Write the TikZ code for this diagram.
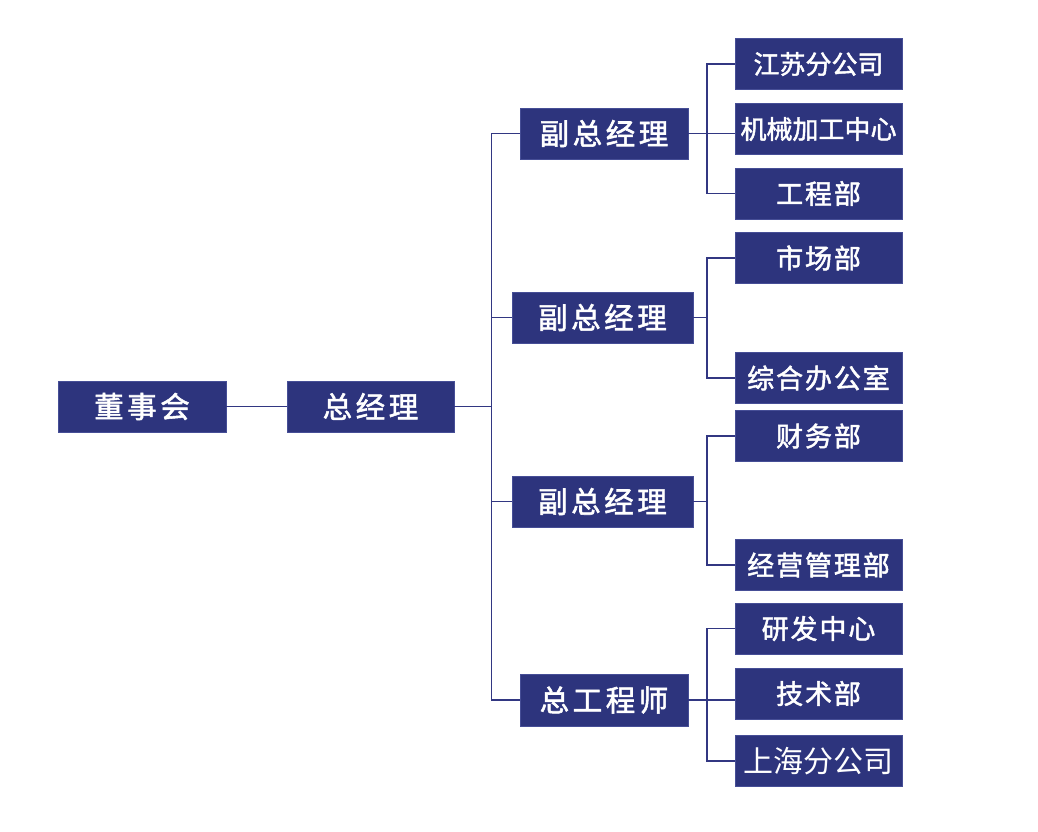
\documentclass[tikz,border=0pt]{standalone}
\usepackage{fontspec}
\newfontfamily\cjk{Noto Sans CJK SC}[FakeBold=1.8]
\newfontfamily\cjkwide{Noto Sans CJK SC}[FakeBold=1.8,LetterSpace=12]
\newfontfamily\cjkmid{Noto Sans CJK SC}[FakeBold=1.8,LetterSpace=7]
\newfontfamily\cjkthin{Noto Sans CJK SC}
\definecolor{navy}{RGB}{45,52,125}
\definecolor{navyedge}{RGB}{70,78,150}
\definecolor{linec}{RGB}{50,55,130}
\tikzset{
  box/.style={draw=navyedge, line width=0.8pt, fill=navy, text=white, inner sep=0pt, minimum height=51pt, anchor=center},
  lbox/.style={box, minimum width=168pt, font=\cjkwide\fontsize{29.5}{29.5}\selectfont},
  mbox/.style={box, minimum width=181pt, font=\cjkwide\fontsize{29.5}{29.5}\selectfont},
  rbox/.style={box, minimum width=167pt, font=\cjkmid\fontsize{27}{27}\selectfont},
  conn/.style={draw=linec, line width=1.8pt}
}
\begin{document}
\begin{tikzpicture}[x=1pt,y=-1pt]
\useasboundingbox (0,0) rectangle (1038,831);
\fill[white] (0,0) rectangle (1038,831);
% left
\node[lbox] (dsh) at (142,406.5) {董事会};
\node[lbox, minimum width=167pt] (zjl) at (370.5,406.5) {总经理};
% middle
\node[lbox] (f1) at (604,133.5) {副总经理};
\node[mbox] (f2) at (602.5,317.5) {副总经理};
\node[mbox] (f3) at (602.5,501.5) {副总经理};
\node[lbox, minimum height=52pt] (zgc) at (604,700) {总工程师};
% right
\node[rbox, font=\cjk\fontsize{26}{26}\selectfont] (r1) at (818.5,64) {江苏分公司};
\node[rbox, font=\cjk\fontsize{26}{26}\selectfont] (r2) at (818.5,129) {机械加工中心};
\node[rbox] (r3) at (818.5,193.5) {工程部};
\node[rbox] (r4) at (818.5,258) {市场部};
\node[rbox] (r5) at (818.5,378) {综合办公室};
\node[rbox] (r6) at (818.5,436) {财务部};
\node[rbox] (r7) at (818.5,565) {经营管理部};
\node[rbox] (r8) at (818.5,628.5) {研发中心};
\node[rbox] (r9) at (818.5,693.5) {技术部};
\node[rbox, font=\cjkthin\fontsize{30}{30}\selectfont] (r10) at (818.5,761) {上海分公司};
% trunk coordinates
\coordinate (tr) at (491.5,0);
\coordinate (s) at (707,0);
% connectors
\draw[conn] (dsh.east) -- (zjl.west);
\draw[conn] (zjl.east) -- (zjl.east -| tr);
\draw[conn] (f1.west) -- (f1.west -| tr) -- (zgc.west -| tr) -- (zgc.west);
\draw[conn] (f2.west) -- (f2.west -| tr);
\draw[conn] (f3.west) -- (f3.west -| tr);
% group 1
\draw[conn] (r1.west) -- (r1.west -| s) -- (r3.west -| s) -- (r3.west);
\draw[conn] (f1.east) -- (r2.west |- f1.east);
% group 2
\draw[conn] (r4.west) -- (r4.west -| s) -- (r5.west -| s) -- (r5.west);
\draw[conn] (f2.east) -- (f2.east -| s);
% group 3
\draw[conn] (r6.west) -- (r6.west -| s) -- (r7.west -| s) -- (r7.west);
\draw[conn] (f3.east) -- (f3.east -| s);
% group 4
\draw[conn] (r8.west) -- (r8.west -| s) -- (r10.west -| s) -- (r10.west);
\draw[conn] (zgc.east) -- (r9.west |- zgc.east);
\end{tikzpicture}
\end{document}
